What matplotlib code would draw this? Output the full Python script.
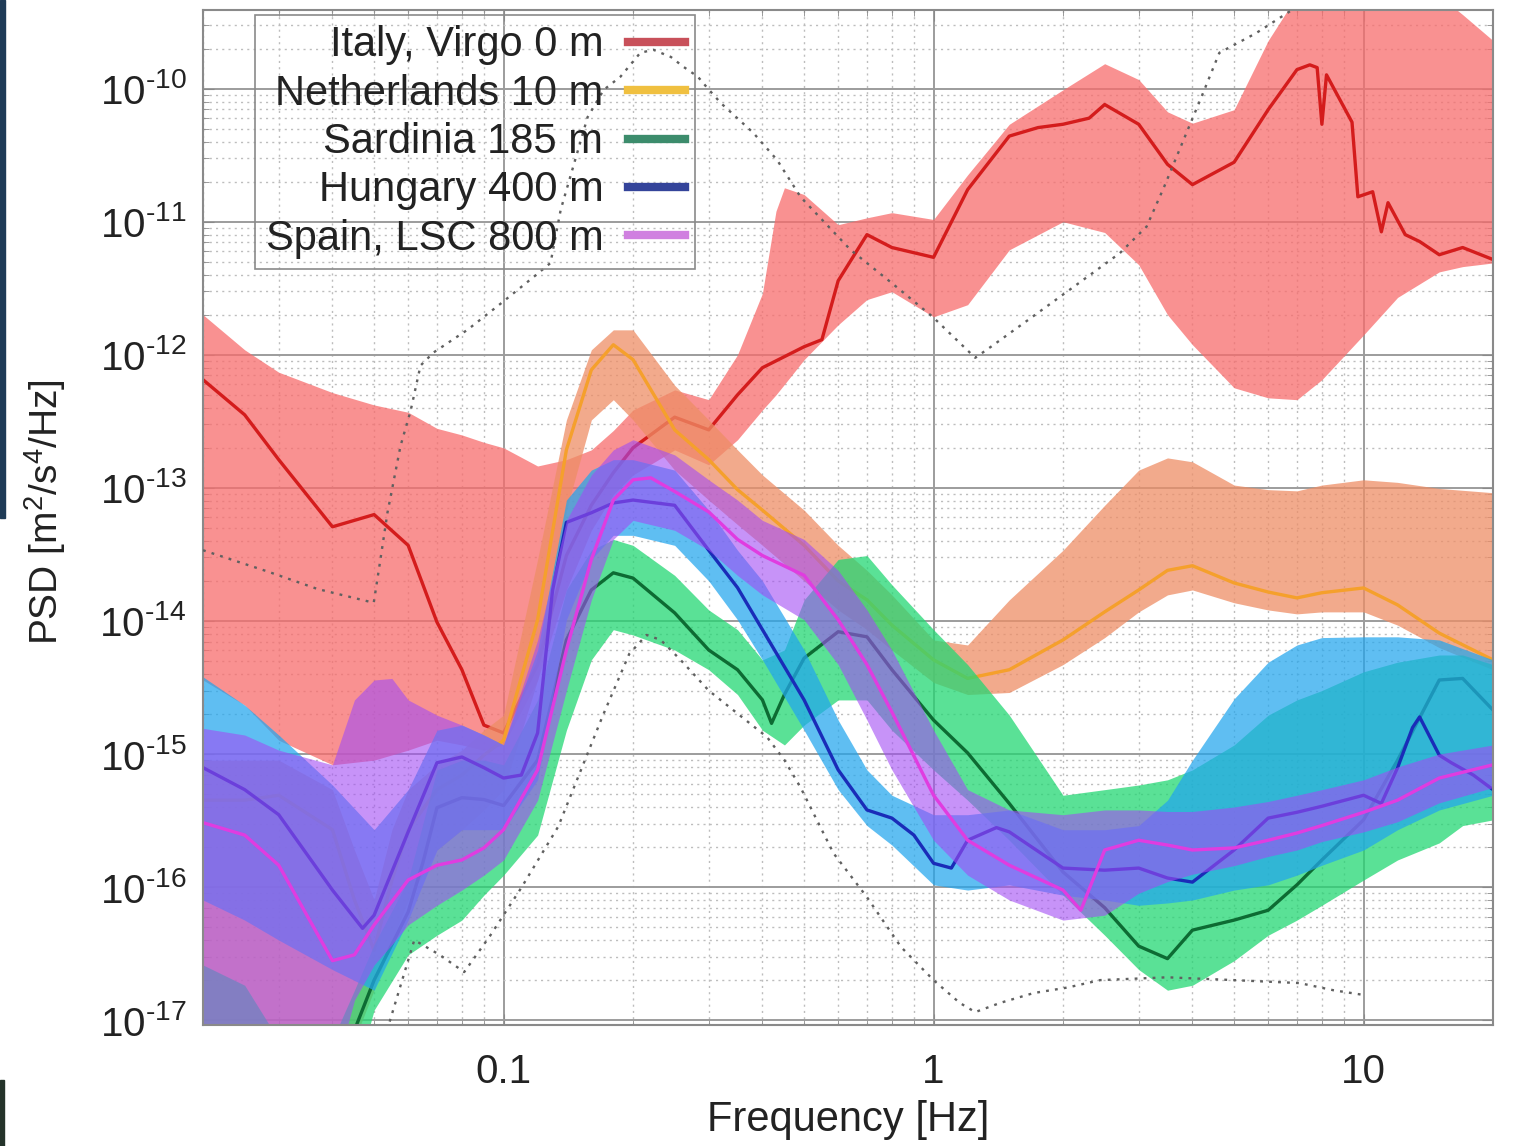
import numpy as np
import matplotlib
matplotlib.use("Agg")
import matplotlib.pyplot as plt
from matplotlib.lines import Line2D
from matplotlib.patches import Rectangle
from matplotlib.ticker import LogLocator, NullFormatter

plt.rcParams['font.family'] = ['Liberation Sans', 'DejaVu Sans']
plt.rcParams['mathtext.fontset'] = 'custom'
plt.rcParams['mathtext.rm'] = 'Liberation Sans'
plt.rcParams['mathtext.it'] = 'Liberation Sans:italic'
plt.rcParams['mathtext.bf'] = 'Liberation Sans:bold'
plt.rcParams['axes.unicode_minus'] = False
plt.rcParams['text.color'] = '#222222'

# ---- Italy, Virgo 0 m ----
italy_f = [0.02, 0.025, 0.03, 0.04, 0.05, 0.06, 0.07, 0.08, 0.09, 0.1,
           0.12, 0.14, 0.16, 0.18, 0.2, 0.25, 0.3, 0.35, 0.4, 0.5,
           0.55, 0.6, 0.7, 0.8, 1.0, 1.2, 1.5, 1.75, 2.0, 2.3,
           2.5, 3.0, 3.5, 4.0, 5.0, 6.0, 7.0, 7.5, 7.8, 8.0,
           8.2, 9.4, 9.7, 10.5, 11.0, 11.4, 12.5, 13.5, 15, 17, 20]
italy_psd = [6.5e-13, 3.54e-13, 1.63e-13, 5.1e-14, 6.3e-14, 3.7e-14, 9.8e-15, 4.3e-15, 1.65e-15, 1.44e-15,
             4.7e-15, 3.1e-14, 7.4e-14, 1.3e-13, 2.0e-13, 3.4e-13, 2.73e-13, 5.0e-13, 8.0e-13, 1.15e-12,
             1.3e-12, 3.6e-12, 8.0e-12, 6.4e-12, 5.4e-12, 1.74e-11, 4.4e-11, 5.1e-11, 5.4e-11, 6.0e-11,
             7.6e-11, 5.4e-11, 2.7e-11, 1.9e-11, 2.8e-11, 6.95e-11, 1.39e-10, 1.51e-10, 1.44e-10, 5.4e-11,
             1.27e-10, 5.6e-11, 1.54e-11, 1.68e-11, 8.4e-12, 1.39e-11, 8.0e-12, 7.1e-12, 5.65e-12, 6.4e-12, 5.2e-12]
italy_band_f = [0.02, 0.025, 0.03, 0.04, 0.05, 0.06, 0.07, 0.08, 0.09, 0.1,
                0.12, 0.14, 0.16, 0.18, 0.2, 0.25, 0.3, 0.35, 0.4, 0.43,
                0.45, 0.5, 0.6, 0.7, 0.8, 1.0, 1.2, 1.5, 2, 2.5,
                3, 3.5, 4, 5, 6, 7, 8, 10, 12, 15, 17, 20]
italy_hi = [2.0e-12, 1.09e-12, 7.4e-13, 5.2e-13, 4.2e-13, 3.7e-13, 2.8e-13, 2.5e-13, 2.2e-13, 2.0e-13,
            1.46e-13, 1.63e-13, 1.93e-13, 2.7e-13, 3.85e-13, 5.45e-13, 4.6e-13, 1.0e-12, 2.9e-12, 1.2e-11,
            1.8e-11, 1.6e-11, 9.5e-12, 1.07e-11, 1.17e-11, 1.04e-11, 2.25e-11, 5.4e-11, 9.8e-11, 1.54e-10,
            1.17e-10, 6.7e-11, 5.5e-11, 6.95e-11, 2.3e-10, 5e-10, 5e-10, 5e-10, 5e-10, 5e-10, 3.6e-10, 2.3e-10]
italy_lo = [3.6e-15, 2.33e-15, 1.27e-15, 8.3e-16, 9.0e-16, 1.07e-15, 1.27e-15, 1.17e-15, 1.07e-15, 1.17e-15,
            3.6e-15, 1.71e-14, 4.8e-14, 8.9e-14, 1.25e-13, 1.93e-13, 1.49e-13, 2.3e-13, 3.85e-13, 5.0e-13,
            6.0e-13, 9.2e-13, 1.68e-12, 2.6e-12, 2.98e-12, 1.93e-12, 2.38e-12, 6.15e-12, 1.0e-11, 8.3e-12,
            4.75e-12, 2.0e-12, 1.19e-12, 5.65e-13, 4.75e-13, 4.6e-13, 6.5e-13, 1.41e-12, 2.7e-12, 4.2e-12, 4.6e-12, 4.9e-12]

# ---- Netherlands 10 m ----
neth_f = [0.02, 0.025, 0.03, 0.04, 0.045, 0.05, 0.055, 0.06, 0.07, 0.08,
          0.09, 0.1, 0.12, 0.14, 0.16, 0.18, 0.2, 0.25, 0.3, 0.35,
          0.4, 0.5, 0.6, 0.7, 0.8, 1, 1.2, 1.5, 2, 2.5,
          3, 3.5, 4, 5, 6, 7, 8, 10, 12, 15, 20]
neth_psd = [4.5e-16, 4.5e-16, 4.9e-16, 2.7e-16, 8.0e-17, 3.35e-17, 1.13e-16, 2.7e-16, 5.4e-16, 6.95e-16,
            9.8e-16, 1.27e-15, 1.02e-14, 1.93e-13, 7.7e-13, 1.19e-12, 9.2e-13, 2.73e-13, 1.63e-13, 9.7e-14,
            6.8e-14, 3.7e-14, 2.0e-14, 1.44e-14, 9.3e-15, 5.1e-15, 3.7e-15, 4.3e-15, 7.2e-15, 1.17e-14,
            1.71e-14, 2.4e-14, 2.6e-14, 1.93e-14, 1.65e-14, 1.49e-14, 1.63e-14, 1.77e-14, 1.32e-14, 8.1e-15, 5.1e-15]
neth_hi = [9.0e-16, 9.0e-16, 9.0e-16, 5.4e-16, 1.9e-16, 8.0e-17, 2.7e-16, 5.4e-16, 8.3e-16, 1.07e-15,
           1.51e-15, 1.96e-15, 2.9e-14, 3.24e-13, 1.09e-12, 1.54e-12, 1.54e-12, 5.9e-13, 3.24e-13, 1.93e-13,
           1.25e-13, 6.8e-14, 3.7e-14, 2.4e-14, 1.57e-14, 7.2e-15, 6.6e-15, 1.44e-14, 3.4e-14, 7.4e-14,
           1.36e-13, 1.68e-13, 1.57e-13, 1.05e-13, 9.7e-14, 9.5e-14, 1.05e-13, 1.15e-13, 1.1e-13, 9.9e-14, 9.2e-14]
neth_lo = [3.5e-18, 3.5e-18, 3.5e-18, 3.5e-18, 7.1e-18, 1.68e-17, 4.0e-17, 8.0e-17, 1.9e-16, 2.7e-16,
           3.8e-16, 5.4e-16, 3.6e-15, 6.8e-14, 3.24e-13, 4.6e-13, 3.24e-13, 1.36e-13, 8.1e-14, 5.3e-14,
           3.7e-14, 2.0e-14, 1.21e-14, 8.6e-15, 6.05e-15, 3.45e-15, 2.8e-15, 2.9e-15, 4.7e-15, 7.5e-15,
           1.17e-14, 1.57e-14, 1.71e-14, 1.37e-14, 1.21e-14, 1.13e-14, 1.17e-14, 1.17e-14, 9.3e-15, 6.3e-15, 4.3e-15]

# ---- Sardinia 185 m ----
sard_f = [0.04, 0.045, 0.05, 0.06, 0.065, 0.07, 0.08, 0.09, 0.1, 0.12,
          0.14, 0.16, 0.18, 0.2, 0.25, 0.3, 0.35, 0.4, 0.42, 0.45,
          0.5, 0.6, 0.7, 0.8, 1, 1.2, 1.5, 2, 2.5, 3,
          3.5, 4, 5, 6, 7, 8, 10, 12, 15, 17, 20]
sard_psd = [2.5e-18, 8.4e-18, 2.0e-17, 6.5e-17, 1.55e-16, 3.95e-16, 4.7e-16, 4.55e-16, 4.1e-16, 9.0e-16,
            7.2e-15, 1.71e-14, 2.3e-14, 2.1e-14, 1.15e-14, 6.05e-15, 4.3e-15, 2.55e-15, 1.7e-15, 2.8e-15,
            5.25e-15, 8.3e-15, 7.6e-15, 4.3e-15, 1.8e-15, 1.02e-15, 4.25e-16, 1.3e-16, 7.0e-17, 3.6e-17,
            2.9e-17, 4.75e-17, 5.65e-17, 6.7e-17, 1.04e-16, 1.6e-16, 3.2e-16, 9.0e-16, 3.6e-15, 3.7e-15, 2.14e-15]
sard_band_f = [0.02, 0.025, 0.03, 0.04, 0.045, 0.05, 0.06, 0.07, 0.08, 0.09,
               0.1, 0.12, 0.14, 0.16, 0.18, 0.2, 0.25, 0.3, 0.35, 0.4,
               0.45, 0.5, 0.6, 0.7, 0.8, 1, 1.2, 1.5, 2, 2.5,
               3, 3.5, 4, 5, 6, 7, 8, 10, 12, 15, 17, 20]
sard_hi = [2.6e-17, 1.83e-17, 7.1e-18, 7.1e-18, 1.68e-17, 3.7e-17, 1.13e-16, 7.6e-16, 9.0e-16, 9.0e-16,
           8.3e-16, 2.55e-15, 1.71e-14, 3.4e-14, 4.1e-14, 3.7e-14, 2.2e-14, 1.21e-14, 8.6e-15, 5.1e-15,
           6.05e-15, 1.44e-14, 2.9e-14, 3.1e-14, 1.87e-14, 8.6e-15, 4.7e-15, 1.96e-15, 4.9e-16, 5.4e-16,
           5.85e-16, 6.4e-16, 7.6e-16, 1.17e-15, 1.96e-15, 2.55e-15, 3.0e-15, 4.15e-15, 4.9e-15, 5.55e-15, 5.55e-15, 4.7e-15]
sard_lo = [3.5e-18, 2.9e-18, 2.5e-18, 2.5e-18, 3.5e-18, 1.19e-17, 3.1e-17, 4.35e-17, 5.65e-17, 8.7e-17,
           1.23e-16, 2.46e-16, 1.51e-15, 5.1e-15, 8.6e-15, 7.85e-15, 6.05e-15, 4.3e-15, 2.8e-15, 1.51e-15,
           1.17e-15, 1.65e-15, 2.55e-15, 2.55e-15, 1.51e-15, 7.6e-16, 4.5e-16, 2.25e-16, 8.7e-17, 4.35e-17,
           2.4e-17, 1.68e-17, 1.83e-17, 2.8e-17, 4.35e-17, 5.65e-17, 7.3e-17, 1.13e-16, 1.6e-16, 2.15e-16, 2.9e-16, 3.2e-16]

# ---- Hungary 400 m ----
hung_f = [0.02, 0.025, 0.03, 0.04, 0.047, 0.05, 0.06, 0.07, 0.08, 0.09,
          0.1, 0.11, 0.12, 0.13, 0.14, 0.16, 0.18, 0.2, 0.25, 0.3,
          0.35, 0.4, 0.5, 0.6, 0.7, 0.8, 0.9, 1.0, 1.1, 1.2,
          1.4, 1.5, 2, 2.5, 3, 3.5, 4, 5, 6, 7,
          8, 10, 11, 12, 13, 13.5, 15, 16, 18, 20]
hung_psd = [7.9e-16, 5.4e-16, 3.5e-16, 9.5e-17, 4.9e-17, 6.15e-17, 2.6e-16, 8.6e-16, 9.5e-16, 7.9e-16,
            6.6e-16, 6.95e-16, 1.44e-15, 1.7e-14, 5.5e-14, 6.5e-14, 7.7e-14, 8.1e-14, 7.4e-14, 3.4e-14,
            1.78e-14, 8.6e-15, 2.55e-15, 7.6e-16, 3.8e-16, 3.3e-16, 2.46e-16, 1.51e-16, 1.39e-16, 2.25e-16,
            2.8e-16, 2.6e-16, 1.39e-16, 1.34e-16, 1.39e-16, 1.17e-16, 1.09e-16, 1.9e-16, 3.3e-16, 3.65e-16,
            4.05e-16, 4.9e-16, 4.25e-16, 7.9e-16, 1.58e-15, 1.9e-15, 9.8e-16, 8.6e-16, 6.95e-16, 5.4e-16]
hung_band_f = [0.02, 0.025, 0.03, 0.04, 0.05, 0.06, 0.07, 0.08, 0.09, 0.1,
               0.12, 0.14, 0.16, 0.18, 0.2, 0.25, 0.3, 0.35, 0.4, 0.5,
               0.6, 0.7, 0.8, 1, 1.2, 1.5, 2, 2.5, 3, 3.5,
               4, 5, 6, 7, 8, 10, 12, 15, 20]
hung_hi = [3.8e-15, 2.33e-15, 1.39e-15, 5.85e-16, 2.7e-16, 5.4e-16, 1.51e-15, 1.65e-15, 1.39e-15, 1.17e-15,
           6.05e-15, 8.1e-14, 1.36e-13, 1.63e-13, 1.63e-13, 1.36e-13, 6.8e-14, 3.4e-14, 2.0e-14, 6.05e-15,
           1.8e-15, 7.6e-16, 4.9e-16, 3.5e-16, 3.5e-16, 3.8e-16, 2.7e-16, 2.7e-16, 2.9e-16, 4.5e-16,
           9.0e-16, 2.6e-15, 4.9e-15, 6.6e-15, 7.5e-15, 7.6e-15, 7.6e-15, 7.2e-15, 5.1e-15]
hung_lo = [8.0e-17, 5.65e-17, 4.0e-17, 2.4e-17, 1.68e-17, 5.65e-17, 1.9e-16, 2.7e-16, 2.7e-16, 2.7e-16,
           6.4e-16, 1.02e-14, 2.9e-14, 4.4e-14, 4.4e-14, 3.7e-14, 2.0e-14, 1.02e-14, 5.1e-15, 1.51e-15,
           5.4e-16, 2.9e-16, 2.07e-16, 1.04e-16, 9.5e-17, 1.04e-16, 8.7e-17, 8.0e-17, 7.3e-17, 7.6e-17,
           8.0e-17, 9.5e-17, 1.04e-16, 1.23e-16, 1.46e-16, 1.9e-16, 2.7e-16, 3.8e-16, 4.9e-16]

# ---- Spain, LSC 800 m ----
spain_f = [0.02, 0.025, 0.03, 0.04, 0.045, 0.05, 0.06, 0.07, 0.08, 0.09,
           0.1, 0.12, 0.14, 0.16, 0.18, 0.2, 0.22, 0.25, 0.3, 0.35,
           0.4, 0.5, 0.6, 0.7, 0.8, 1, 1.2, 1.5, 2, 2.2,
           2.5, 3, 3.5, 4, 5, 6, 7, 8, 10, 12, 15, 20]
spain_psd = [3.05e-16, 2.46e-16, 1.46e-16, 2.8e-17, 3.1e-17, 5.2e-17, 1.13e-16, 1.46e-16, 1.6e-16, 1.97e-16,
             2.7e-16, 7.6e-16, 6.05e-15, 2.9e-14, 8.1e-14, 1.15e-13, 1.19e-13, 9.4e-14, 6.6e-14, 4.1e-14,
             3.1e-14, 2.2e-14, 1.02e-14, 4.7e-15, 2.07e-15, 4.9e-16, 2.25e-16, 1.46e-16, 9.5e-17, 6.7e-17,
             1.9e-16, 2.25e-16, 2.07e-16, 1.9e-16, 1.97e-16, 2.25e-16, 2.55e-16, 2.9e-16, 3.65e-16, 4.5e-16, 6.6e-16, 8.3e-16]
spain_band_f = [0.02, 0.025, 0.03, 0.04, 0.045, 0.05, 0.055, 0.06, 0.07, 0.08,
                0.09, 0.1, 0.12, 0.14, 0.16, 0.18, 0.2, 0.25, 0.3, 0.35,
                0.4, 0.5, 0.6, 0.7, 0.8, 1, 1.2, 1.5, 2, 2.5,
                3, 3.5, 4, 5, 6, 7, 8, 10, 12, 15, 20]
spain_hi = [1.56e-15, 1.39e-15, 1.07e-15, 8.3e-16, 2.55e-15, 3.6e-15, 3.7e-15, 2.55e-15, 1.96e-15, 1.65e-15,
            1.39e-15, 1.17e-15, 7.2e-15, 5.7e-14, 1.25e-13, 1.93e-13, 2.3e-13, 1.77e-13, 1.15e-13, 8.1e-14,
            5.7e-14, 4.1e-14, 2.4e-14, 1.21e-14, 6.05e-15, 1.51e-15, 5.4e-16, 3.8e-16, 3.5e-16, 3.8e-16,
            3.8e-16, 3.7e-16, 3.7e-16, 4.0e-16, 4.4e-16, 4.9e-16, 5.4e-16, 6.4e-16, 8.0e-16, 1.0e-15, 1.17e-15]
spain_lo = [3.5e-18, 3.5e-18, 3.5e-18, 3.5e-18, 1.41e-17, 2.6e-17, 3.7e-17, 5.2e-17, 7.3e-17, 9.5e-17,
            1.23e-16, 1.6e-16, 4.5e-16, 3.0e-15, 1.44e-14, 4.1e-14, 5.7e-14, 4.8e-14, 3.4e-14, 2.2e-14,
            1.57e-14, 1.02e-14, 4.7e-15, 1.8e-15, 7.6e-16, 2.25e-16, 1.23e-16, 8.0e-17, 5.65e-17, 6.15e-17,
            9.0e-17, 1.1e-16, 1.25e-16, 1.45e-16, 1.7e-16, 1.9e-16, 2.2e-16, 2.6e-16, 3.1e-16, 4.3e-16, 5.6e-16]

# ---- noise model reference curves (dotted) ----
low_model_f = [0.05, 0.062, 0.071, 0.081, 0.093, 0.11, 0.134, 0.17, 0.196, 0.215,
               0.232, 0.258, 0.3, 0.41, 0.45, 0.49, 0.585, 0.7, 0.84, 1.0,
               1.15, 1.25, 1.43, 1.71, 2.05, 2.44, 3.5, 5.0, 7.1, 8.5, 10.1]
low_model_psd = [4.0e-18, 4.0e-17, 3.1e-17, 2.3e-17, 4.3e-17, 9.9e-17, 2.85e-16, 1.93e-15, 5.65e-15, 7.85e-15,
                 7.2e-15, 5.1e-15, 3.0e-15, 1.34e-15, 9.0e-16, 5.65e-16, 1.8e-16, 8.4e-17, 3.55e-17, 2.0e-17,
                 1.35e-17, 1.15e-17, 1.35e-17, 1.6e-17, 1.76e-17, 2.0e-17, 2.1e-17, 2.0e-17, 1.9e-17, 1.68e-17, 1.54e-17]
high_model_f = [0.02, 0.0283, 0.0369, 0.0499, 0.0518, 0.0537, 0.0576, 0.0608, 0.0641, 0.0687,
                0.0824, 0.0984, 0.1175, 0.1286, 0.1358, 0.1568, 0.171, 0.187, 0.208, 0.223,
                0.245, 0.262, 0.283, 0.298, 0.32, 0.381, 0.433, 0.491, 0.641, 0.798,
                0.995, 1.25, 1.36, 1.66, 2.12, 2.71, 3.13, 3.44, 3.9, 4.2,
                4.62, 5.61, 6.84, 7.53]
high_model_psd = [3.4e-14, 2.35e-14, 1.74e-14, 1.37e-14, 3.0e-14, 6.5e-14, 2.07e-13, 3.8e-13, 8.3e-13, 1.04e-12,
                  1.54e-12, 2.42e-12, 3.85e-12, 4.9e-12, 1.23e-11, 6.1e-11, 9.8e-11, 1.23e-10, 1.86e-10, 1.96e-10,
                  1.73e-10, 1.46e-10, 1.23e-10, 1.01e-10, 7.8e-11, 4.65e-11, 2.9e-11, 1.53e-11, 6.15e-12, 3.48e-12,
                  1.93e-12, 9.5e-13, 1.15e-12, 1.83e-12, 3.25e-12, 5.8e-12, 9.2e-12, 1.84e-11, 4.9e-11, 8.7e-11,
                  1.86e-10, 2.6e-10, 3.93e-10, 5.6e-10]

labels = ["Italy, Virgo 0 m", "Netherlands 10 m", "Sardinia 185 m",
          "Hungary 400 m", "Spain, LSC 800 m"]
y_exponents = [-17, -16, -15, -14, -13, -12, -11, -10]

sites = [
    (italy_f, italy_psd, italy_band_f, italy_lo, italy_hi, '#d41c1c', '#f86c6c', 0.75),
    (neth_f, neth_psd, neth_f, neth_lo, neth_hi, '#f5a02c', '#ee8e66', 0.75),
    (sard_f, sard_psd, sard_band_f, sard_lo, sard_hi, '#0d6b33', '#23d773', 0.75),
    (hung_f, hung_psd, hung_band_f, hung_lo, hung_hi, '#1a2cb8', '#22a6ee', 0.72),
    (spain_f, spain_psd, spain_band_f, spain_lo, spain_hi, '#e03ce0', '#a24cf4', 0.6),
]
legend_colors = ['#c8505a', '#f0c040', '#3c8c6c', '#34449a', '#d080e0']

fig = plt.figure(figsize=(15.14, 11.46), dpi=100)
ax = fig.add_axes([203 / 1514, 121 / 1146, 1290 / 1514, 1015 / 1146])
ax.set_xscale('log')
ax.set_yscale('log')

for f, psd, bf, lo, hi, lc, bc, al in sites:
    ax.fill_between(bf, lo, hi, color=bc, alpha=al, lw=0, zorder=2)
    ax.plot(f, psd, color=lc, lw=2.4, zorder=2)

ax.plot(low_model_f, low_model_psd, color='#606060', lw=1.7,
        ls=(0, (1.2, 2.6)), zorder=5)
ax.plot(high_model_f, high_model_psd, color='#606060', lw=1.7,
        ls=(0, (1.2, 2.6)), zorder=5)

ax.set_xlim(0.02, 20)
ax.set_ylim(9.2e-18, 3.9e-10)

ax.set_xticks([0.1, 1, 10])
ax.set_xticklabels(['0.1', '1', '10'])
ax.set_yticks([10.0 ** e for e in y_exponents])
ax.set_yticklabels([r'$10^{\text{-}%d}$' % (-e) for e in y_exponents])
ax.xaxis.set_minor_locator(LogLocator(base=10, subs=np.arange(2, 10), numticks=20))
ax.xaxis.set_minor_formatter(NullFormatter())
ax.yaxis.set_minor_locator(LogLocator(base=10, subs=np.arange(2, 10), numticks=20))
ax.yaxis.set_minor_formatter(NullFormatter())

ax.grid(which='major', color='#9c9c9c', lw=1.4, ls='-', zorder=0)
ax.grid(which='minor', color='#bdbdbd', lw=1.0, ls=(0, (1.5, 3)), zorder=0)
ax.set_axisbelow(True)

for sp in ax.spines.values():
    sp.set_color('#8a8a8a')
    sp.set_linewidth(1.5)
ax.tick_params(which='both', direction='in', top=True, right=True, color='#8a8a8a')
ax.tick_params(which='major', length=8, labelsize=29, labelcolor='#222222')
ax.tick_params(axis='x', which='major', pad=20)
ax.tick_params(axis='y', which='major', pad=12)
ax.tick_params(which='minor', length=4)

fig.text(848 / 1514, 1 - 1120 / 1146, 'Frequency [Hz]', ha='center', va='center', fontsize=30)
fig.text(45 / 1514, 1 - 512 / 1146, 'PSD [m$^{2}$/s$^{4}$/Hz]', ha='center', va='center',
         rotation=90, fontsize=28)

handles = [Line2D([], [], color=c, lw=6) for c in legend_colors]
leg = ax.legend(handles, labels, loc='upper right', bbox_to_anchor=((695 - 203) / 1290, 0.995),
                markerfirst=False, fontsize=30, handlelength=1.35, handletextpad=0.6,
                labelspacing=0.2, borderpad=0.25, borderaxespad=0, fancybox=False,
                framealpha=1, edgecolor='#8a8a8a')
leg.get_frame().set_facecolor('none')
leg.get_frame().set_linewidth(1.2)
leg.set_zorder(6)

# dark strip of the slide background at the left edge
fig.patches.append(Rectangle((0, 1 - 518 / 1146), 5 / 1514, 518 / 1146,
                             transform=fig.transFigure, color='#1f3b57', zorder=0))
fig.patches.append(Rectangle((0, 0), 4 / 1514, 66 / 1146,
                             transform=fig.transFigure, color='#24332a', zorder=0))

fig.savefig('out.png', dpi=100)
